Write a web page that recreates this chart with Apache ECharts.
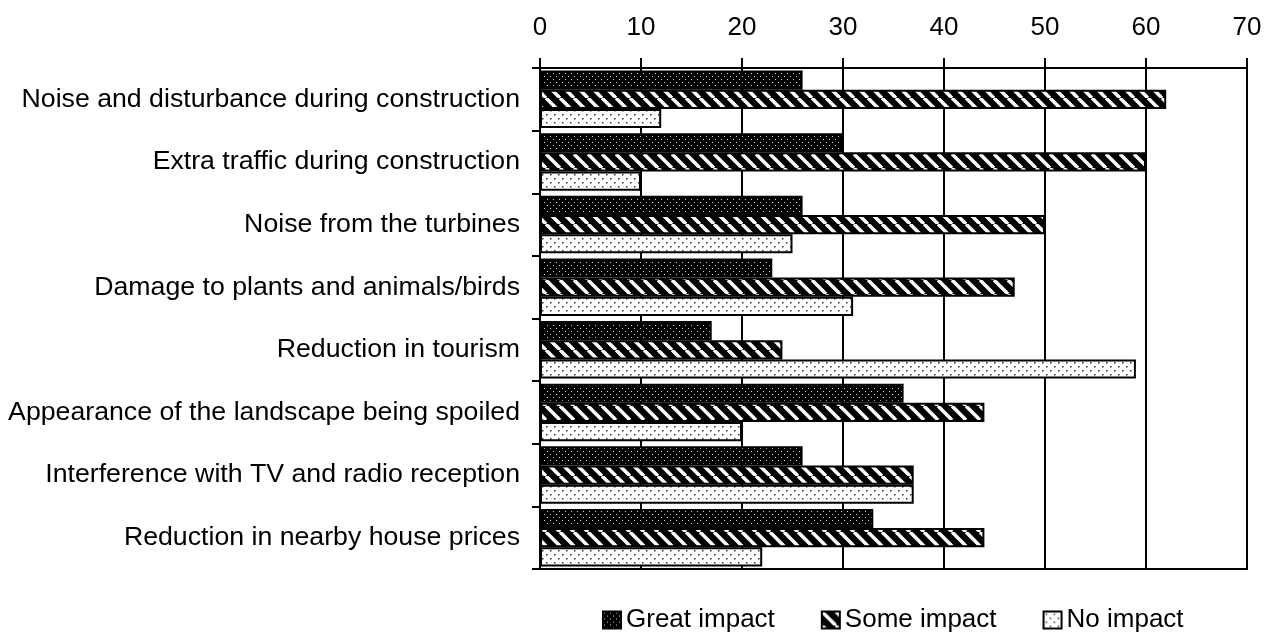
<!DOCTYPE html>
<html>
<head>
<meta charset="utf-8">
<script src="https://cdn.jsdelivr.net/npm/echarts@6/dist/echarts.min.js"></script>
<style>
html,body{margin:0;padding:0;background:#fff;}
#chart{width:1280px;height:634px;}
</style>
</head>
<body>
<div id="chart"></div>
<script>
const categories = [
  "Noise and disturbance during construction",
  "Extra traffic during construction",
  "Noise from the turbines",
  "Damage to plants and animals/birds",
  "Reduction in tourism",
  "Appearance of the landscape being spoiled",
  "Interference with TV and radio reception",
  "Reduction in nearby house prices"
];
const seriesNames = ["Great impact", "Some impact", "No impact"];
const greatImpact = [26, 30, 26, 23, 17, 36, 26, 33];
const someImpact  = [62, 60, 50, 47, 24, 44, 37, 44];
const noImpact    = [12, 10, 25, 31, 59, 20, 37, 22];
const xTicks = [0, 10, 20, 30, 40, 50, 60, 70];

function makeCanvas(w, h, draw) {
  const c = document.createElement('canvas');
  c.width = w; c.height = h;
  const ctx = c.getContext('2d');
  draw(ctx, w, h);
  return c;
}
const patGreat = makeCanvas(6, 6, (ctx, w, h) => {
  ctx.fillStyle = '#000'; ctx.fillRect(0, 0, w, h);
  ctx.fillStyle = '#d8d8d8';
  ctx.fillRect(1, 1, 1, 1);
  ctx.fillRect(4, 4, 1, 1);
});
const patSome = makeCanvas(14, 14, (ctx, w, h) => {
  ctx.fillStyle = '#000'; ctx.fillRect(0, 0, w, h);
  ctx.strokeStyle = '#fff'; ctx.lineWidth = 3.5;
  for (let k = -1; k <= 1; k++) {
    ctx.beginPath();
    ctx.moveTo(k * w, 0);
    ctx.lineTo(k * w + w, h);
    ctx.stroke();
  }
});
const patNo = makeCanvas(8, 8, (ctx, w, h) => {
  ctx.fillStyle = '#fff'; ctx.fillRect(0, 0, w, h);
  ctx.fillStyle = '#333';
  ctx.fillRect(2, 2, 1.5, 1.5);
  ctx.fillRect(6, 6, 1.5, 1.5);
});
const patterns = [patGreat, patSome, patNo];
const dataSets = [greatImpact, someImpact, noImpact];

const chart = echarts.init(document.getElementById('chart'), null, {renderer: 'canvas'});
const FONT = 'Liberation Sans, Arial, sans-serif';
chart.setOption({
  animation: false,
  backgroundColor: '#fff',
  grid: {left: 540, right: 33, top: 68, bottom: 65, containLabel: false,
         show: true, borderColor: '#000', borderWidth: 2},
  legend: {
    top: 607, left: 602, itemWidth: 18, itemHeight: 17, itemGap: 46,
    icon: 'rect', padding: 0,
    textStyle: {fontFamily: FONT, fontSize: 26, color: '#000', padding: [0, 0, 0, 0]},
    data: seriesNames
  },
  xAxis: {
    type: 'value', position: 'top', min: 0, max: 70, interval: 10,
    axisLine: {show: true, lineStyle: {color: '#000', width: 2}},
    axisTick: {show: true, length: 10, lineStyle: {color: '#000', width: 2}},
    splitLine: {show: true, lineStyle: {color: '#000', width: 2}},
    axisLabel: {fontFamily: FONT, fontSize: 26, color: '#000', margin: 27,
      formatter: v => xTicks.includes(v) ? String(v) : ''}
  },
  yAxis: {
    type: 'category', data: categories, inverse: true,
    axisLine: {show: true, lineStyle: {color: '#000', width: 2}},
    axisTick: {show: true, length: 8, lineStyle: {color: '#000', width: 2}},
    axisLabel: {fontFamily: FONT, fontSize: 26.7, color: '#000', margin: 20}
  },
  series: seriesNames.map((name, i) => ({
    name: name, type: 'bar', data: dataSets[i],
    barGap: '0%', barCategoryGap: '8%',
    itemStyle: {color: {image: patterns[i], repeat: 'repeat'}, borderColor: '#000', borderWidth: 2}
  }))
});
</script>
</body>
</html>
